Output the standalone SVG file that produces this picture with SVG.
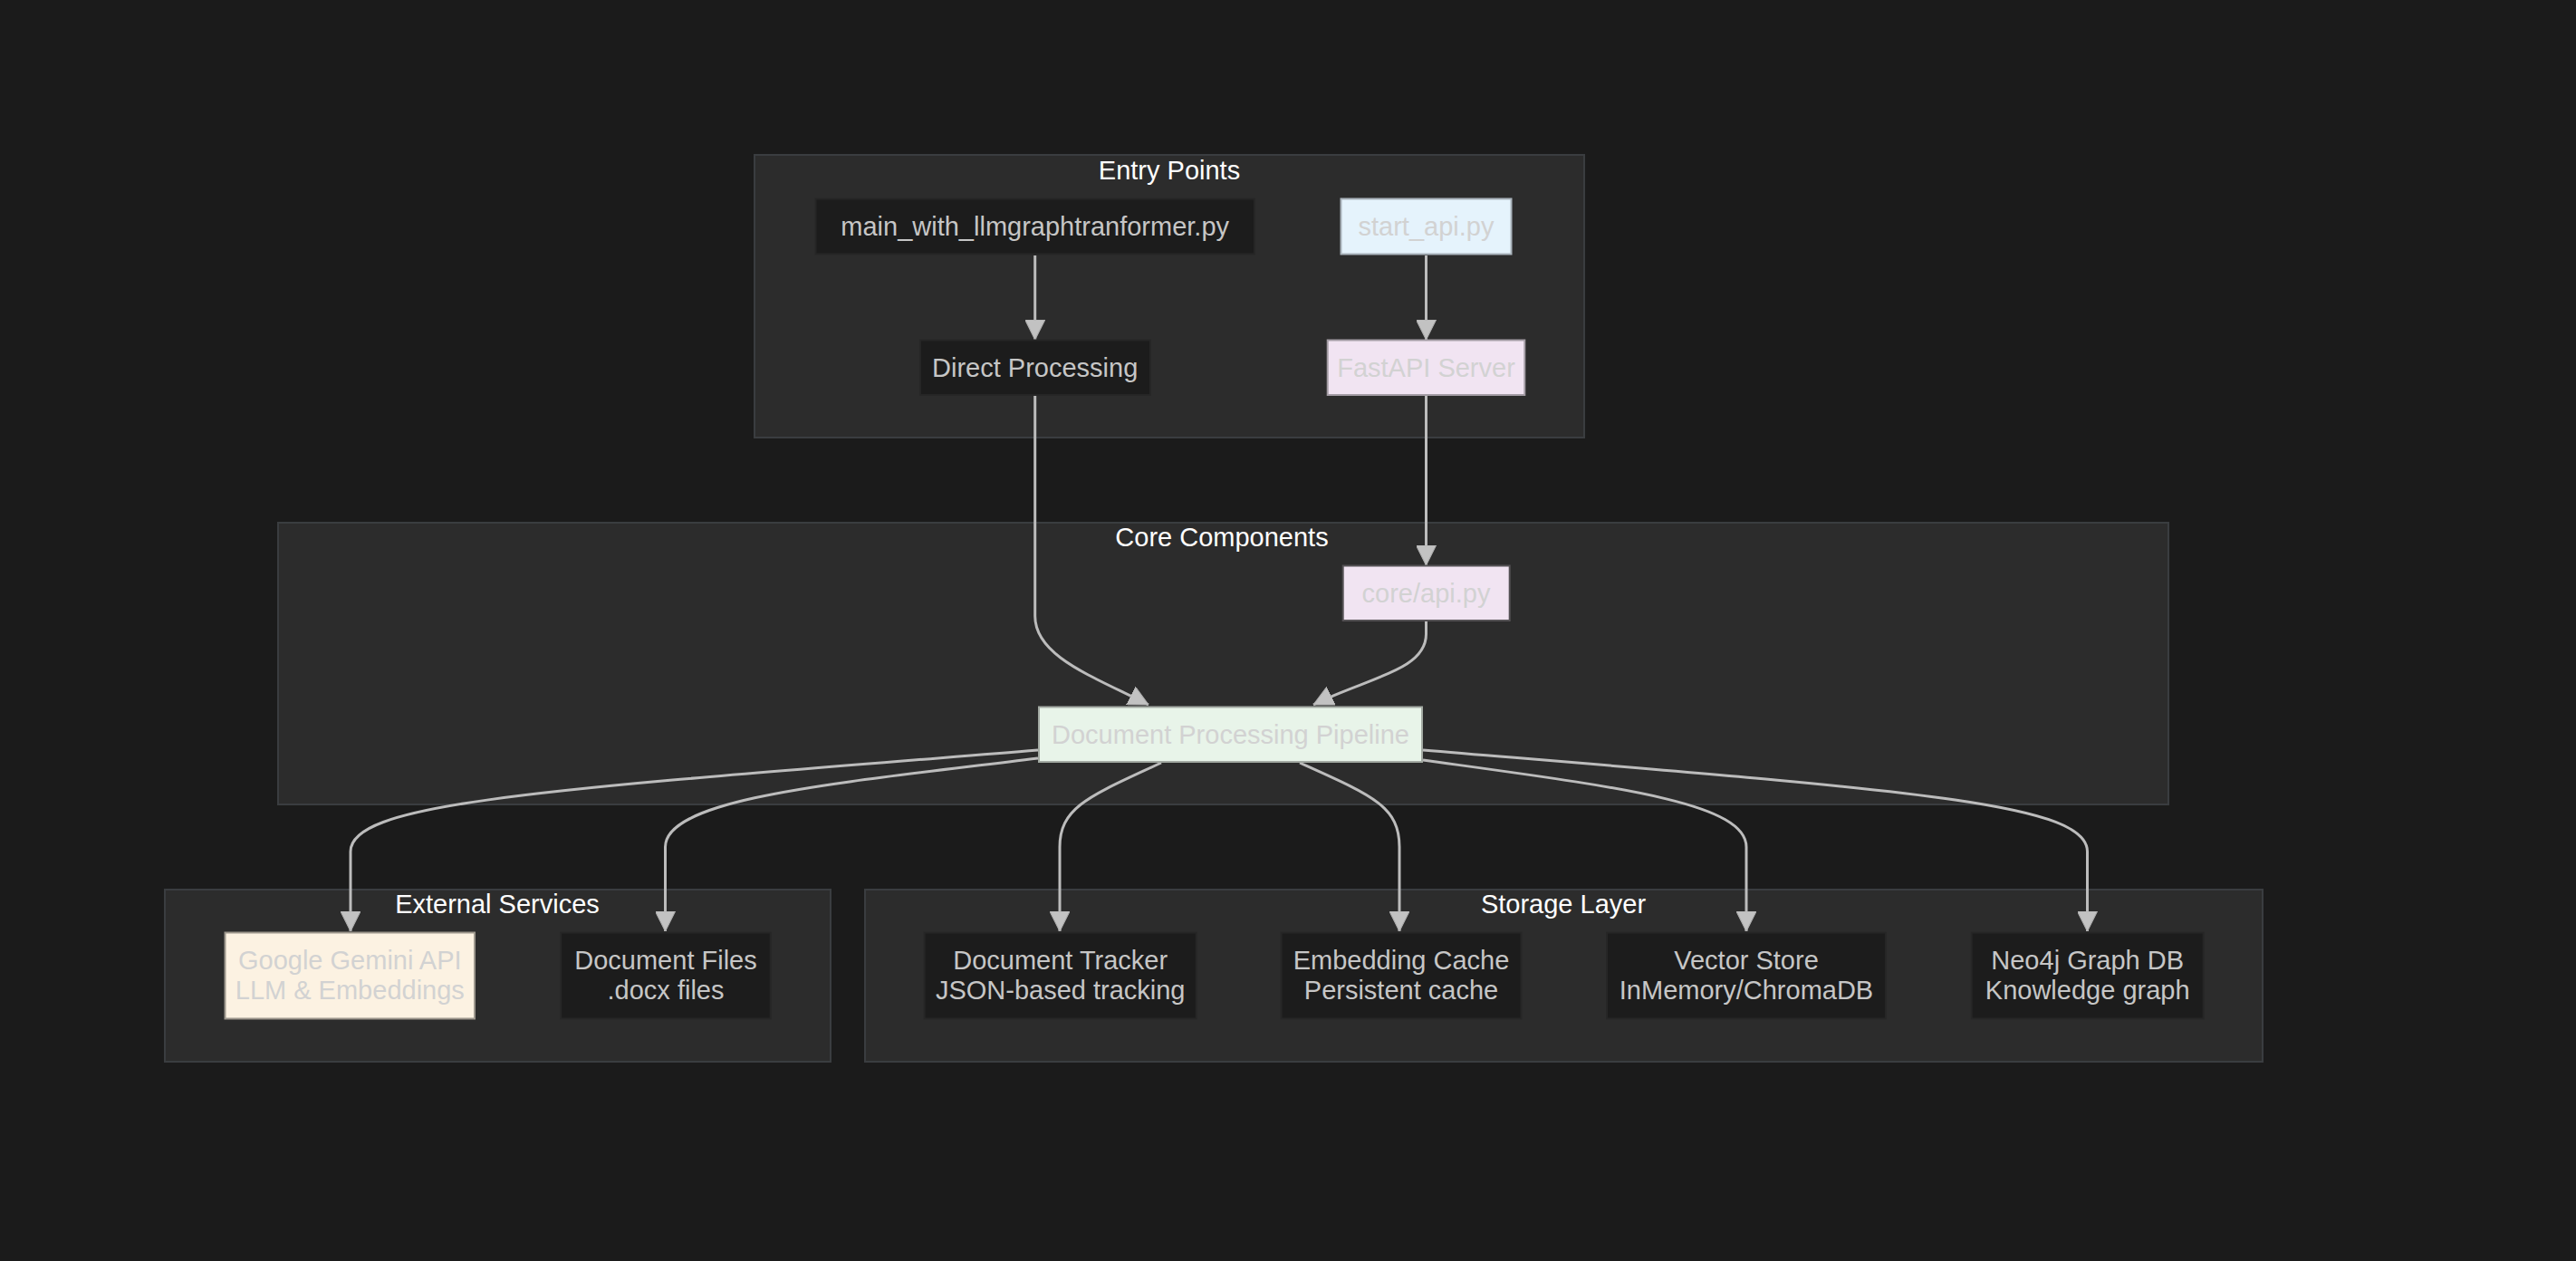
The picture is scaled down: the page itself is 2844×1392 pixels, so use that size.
<svg xmlns="http://www.w3.org/2000/svg" width="2844" height="1392" viewBox="0 0 2844 1392">
  <defs>
    <marker id="arrow" viewBox="0 0 10 10" refX="10" refY="5" markerUnits="userSpaceOnUse" markerWidth="22" markerHeight="22" orient="auto">
      <path d="M0,0 L10,5 L0,10 z" fill="#c2c2c2" stroke="#b0b0b0" stroke-width="0.5"/>
    </marker>
  </defs>
  <style>
    .bg { fill: #1b1b1b; }
    .cluster rect { fill: #2c2c2c; stroke: #3a3d40; stroke-width: 2; }
    .cluster text { fill: #ffffff; font-family: "Liberation Sans", Arial, sans-serif; font-size: 29px; text-anchor: middle; dominant-baseline: central; }
    .node rect { fill: #1c1c1c; stroke: #262626; stroke-width: 2; }
    .node text { fill: #c6c6c6; font-family: "Liberation Sans", Arial, sans-serif; font-size: 29px; text-anchor: middle; dominant-baseline: central; }
    .light text { fill: #d2d2d2; }
    .edges path { fill: none; stroke: #bcbcbc; stroke-width: 3; marker-end: url(#arrow); }
  </style>
  <rect class="bg" x="0" y="0" width="2844" height="1392"/>

  <!-- clusters -->
  <g id="cluster-entry" class="cluster">
    <rect x="833" y="171" width="916" height="312"/>
    <text x="1291" y="188">Entry Points</text>
  </g>
  <g id="cluster-core" class="cluster">
    <rect x="307" y="577" width="2087" height="311"/>
    <text x="1349" y="593">Core Components</text>
  </g>
  <g id="cluster-external" class="cluster">
    <rect x="182" y="982" width="735" height="190"/>
    <text x="549" y="998">External Services</text>
  </g>
  <g id="cluster-storage" class="cluster">
    <rect x="955" y="982" width="1543" height="190"/>
    <text x="1726" y="998">Storage Layer</text>
  </g>

  <!-- connectors -->
  <g id="connectors" class="edges">
    <path d="M1142.7,282 L1142.7,375"/>
    <path d="M1574.5,282 L1574.5,375"/>
    <path d="M1574.5,437 L1574.5,624"/>
    <path d="M1142.7,437 L1142.7,680 C1142.7,725 1208,747 1268,778"/>
    <path d="M1574.5,686 L1574.5,700 C1574.5,740 1510,748 1450,778"/>
    <path d="M1146,828 C600,872 387,885 387,940 L387,1028"/>
    <path d="M1146,837 C930,864 734.5,880 734.5,935 L734.5,1028"/>
    <path d="M1282,842 C1205,878 1170,890 1170,935 L1170,1028"/>
    <path d="M1435,842 C1515,878 1545,890 1545,935 L1545,1028"/>
    <path d="M1571,839 C1780,868 1928,885 1928,935 L1928,1028"/>
    <path d="M1571,828 C2100,872 2304.5,885 2304.5,940 L2304.5,1028"/>
  </g>

  <!-- nodes -->
  <g id="node-main" class="node">
    <rect x="900.5" y="219.5" width="484.5" height="61"/>
    <text x="1142.7" y="250">main_with_llmgraphtranformer.py</text>
  </g>
  <g id="node-start-api" class="node light">
    <rect x="1480.5" y="219.5" width="188" height="61" style="fill:#e5f3fc;stroke:#a9b3bb"/>
    <text x="1574.5" y="250">start_api.py</text>
  </g>
  <g id="node-direct" class="node">
    <rect x="1016" y="375.5" width="254" height="60.5"/>
    <text x="1142.7" y="406">Direct Processing</text>
  </g>
  <g id="node-fastapi" class="node light">
    <rect x="1465.7" y="375.5" width="217.6" height="60.5" style="fill:#f1e4f2;stroke:#a39ca4"/>
    <text x="1574.5" y="406">FastAPI Server</text>
  </g>
  <g id="node-core-api" class="node light">
    <rect x="1482.7" y="624.5" width="184" height="60.5" style="fill:#f1e4f2;stroke:#555255"/>
    <text x="1574.5" y="655">core/api.py</text>
  </g>
  <g id="node-pipeline" class="node light">
    <rect x="1147" y="780.5" width="423" height="60.5" style="fill:#e8f4e9;stroke:#a3aaa3"/>
    <text x="1358.5" y="811">Document Processing Pipeline</text>
  </g>
  <g id="node-gemini" class="node light">
    <rect x="248.5" y="1029.5" width="275.5" height="95" style="fill:#fcf2e2;stroke:#9d978d"/>
    <text x="386.3" y="1060">Google Gemini API</text>
    <text x="386.3" y="1093">LLM &amp; Embeddings</text>
  </g>
  <g id="node-docs" class="node">
    <rect x="619.3" y="1029.5" width="231.3" height="95"/>
    <text x="735" y="1060">Document Files</text>
    <text x="735" y="1093">.docx files</text>
  </g>
  <g id="node-tracker" class="node">
    <rect x="1020.7" y="1029.5" width="300" height="95"/>
    <text x="1170.7" y="1060">Document Tracker</text>
    <text x="1170.7" y="1093">JSON-based tracking</text>
  </g>
  <g id="node-embedding" class="node">
    <rect x="1414.7" y="1029.5" width="264.7" height="95"/>
    <text x="1547" y="1060">Embedding Cache</text>
    <text x="1547" y="1093">Persistent cache</text>
  </g>
  <g id="node-vector" class="node">
    <rect x="1774" y="1029.5" width="308" height="95"/>
    <text x="1928" y="1060">Vector Store</text>
    <text x="1928" y="1093">InMemory/ChromaDB</text>
  </g>
  <g id="node-neo4j" class="node">
    <rect x="2176.8" y="1029.5" width="255.8" height="95"/>
    <text x="2304.7" y="1060">Neo4j Graph DB</text>
    <text x="2304.7" y="1093">Knowledge graph</text>
  </g>
</svg>
